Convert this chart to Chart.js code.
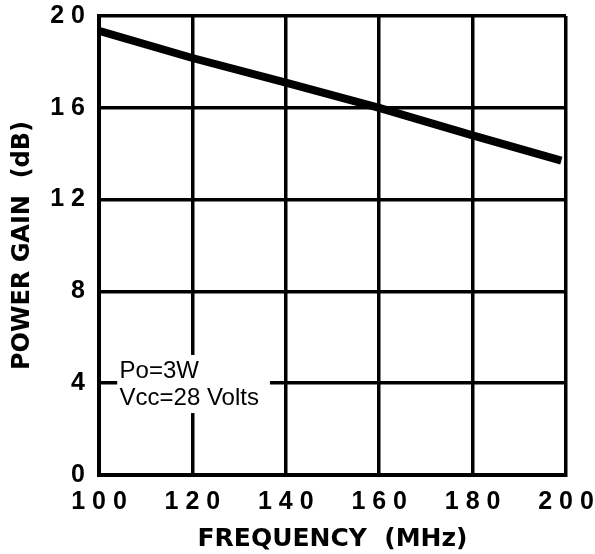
<!DOCTYPE html>
<html>
<head>
<meta charset="utf-8">
<script src="https://cdn.jsdelivr.net/npm/chart.js@4"></script>
<style>
html,body{margin:0;padding:0;background:#fff;}
#wrap{width:595px;height:554px;}
</style>
</head>
<body>
<div id="wrap"><canvas id="c" width="595" height="554"></canvas></div>
<script>
const frequency = [100, 120, 140, 160, 180, 199];
const powerGain = [19.35, 18.17, 17.1, 16.0, 14.8, 13.7];
const xTickValues = [100, 120, 140, 160, 180, 200];
const xTickLabels = ['1 0 0', '1 2 0', '1 4 0', '1 6 0', '1 8 0', '2 0 0'];
const yTickValues = [0, 4, 8, 12, 16, 20];
const yTickLabels = ['0', '4', '8', '1 2', '1 6', '2 0'];
const noteLines = ['Po=3W', 'Vcc=28 Volts'];

const notePlugin = {
  id: 'note',
  beforeDatasetsDraw(chart) {
    const ctx = chart.ctx, xs = chart.scales.x, ys = chart.scales.y;
    const x0 = xs.getPixelForValue(103.9), x1 = xs.getPixelForValue(136.6);
    const y0 = ys.getPixelForValue(5.23), y1 = ys.getPixelForValue(2.7);
    ctx.save();
    ctx.fillStyle = '#fff';
    ctx.fillRect(x0, y0, x1 - x0, y1 - y0);
    ctx.fillStyle = '#000';
    ctx.font = '24px "Liberation Sans", Arial, sans-serif';
    ctx.textBaseline = 'alphabetic';
    ctx.textAlign = 'left';
    const tx = xs.getPixelForValue(104.4), base = ys.getPixelForValue(4);
    ctx.fillText(noteLines[0], tx, base - 5);
    ctx.fillText(noteLines[1], tx, base + 22);
    ctx.restore();
  }
};

new Chart(document.getElementById('c'), {
  type: 'line',
  data: {
    datasets: [{
      data: frequency.map((f, i) => ({x: f, y: powerGain[i]})),
      borderColor: '#000',
      borderWidth: 8,
      pointRadius: 0,
      tension: 0,
      fill: false
    }]
  },
  options: {
    responsive: false,
    animation: false,
    devicePixelRatio: 1,
    layout: {padding: {left: 8, right: 29, top: 16, bottom: 0}},
    plugins: {legend: {display: false}, tooltip: {enabled: false}},
    scales: {
      x: {
        type: 'linear', min: 100, max: 200,
        afterFit(s) { s.height = 79; s.paddingLeft = 0; s.paddingRight = 0; },
        afterBuildTicks(s) { s.ticks = xTickValues.map(v => ({value: v})); },
        grid: {color: '#000', lineWidth: 3.5, drawTicks: false},
        border: {color: '#000', width: 4},
        ticks: {
          color: '#000', padding: 12, maxRotation: 0, autoSkip: false,
          font: {family: '"Liberation Sans", Arial, sans-serif', size: 25, weight: 'bold'},
          callback: (v) => xTickLabels[xTickValues.indexOf(v)]
        },
        title: {
          display: true, text: 'FREQUENCY  (MHz)', color: '#000',
          font: {family: '"DejaVu Sans", sans-serif', size: 25, weight: 'bold'},
          padding: {top: 6, bottom: 0}
        }
      },
      y: {
        type: 'linear', min: 0, max: 20,
        afterFit(s) { s.width = 91; s.paddingTop = 0; s.paddingBottom = 0; },
        afterBuildTicks(s) { s.ticks = yTickValues.map(v => ({value: v})); },
        grid: {color: '#000', lineWidth: 3.5, drawTicks: false},
        border: {color: '#000', width: 4},
        ticks: {
          color: '#000', padding: 14, autoSkip: false,
          font: {family: '"Liberation Sans", Arial, sans-serif', size: 25, weight: 'bold'},
          callback: (v) => yTickLabels[yTickValues.indexOf(v)]
        },
        title: {
          display: true, text: 'POWER GAIN  (dB)', color: '#000',
          font: {family: '"DejaVu Sans", sans-serif', size: 24, weight: 'bold'},
          padding: {top: 0, bottom: 2}
        }
      }
    }
  },
  plugins: [notePlugin]
});
</script>
</body>
</html>
